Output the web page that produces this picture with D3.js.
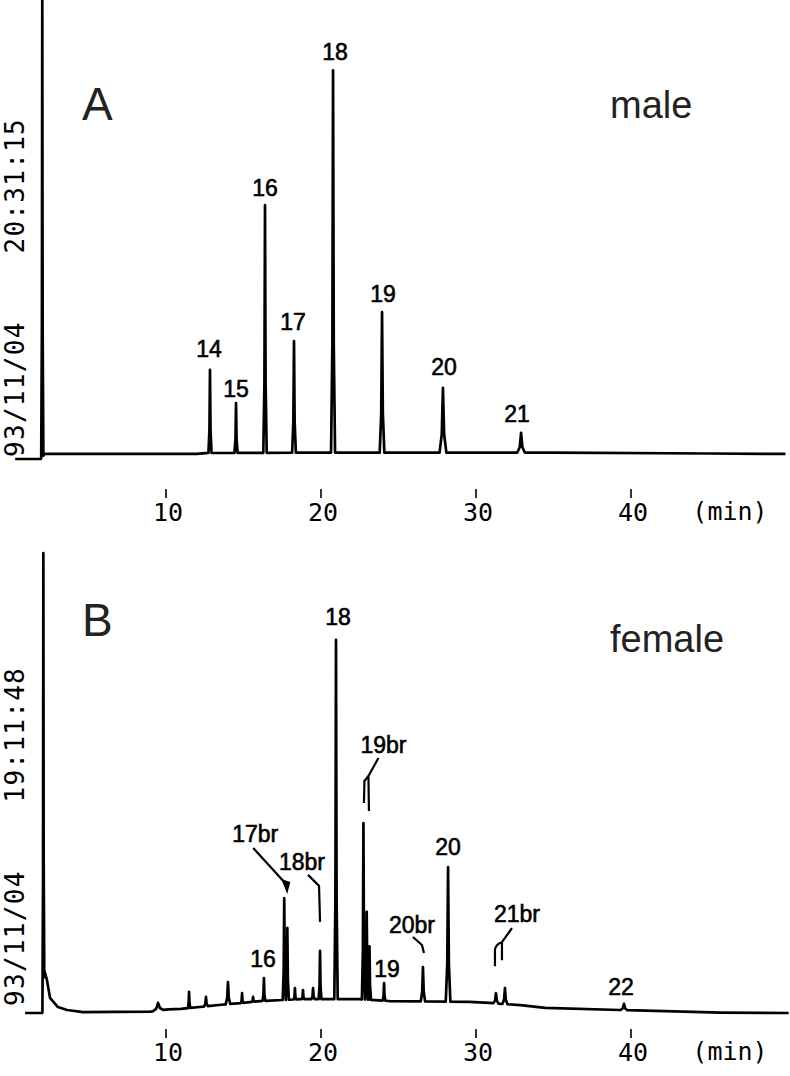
<!DOCTYPE html>
<html><head><meta charset="utf-8">
<script src="https://cdn.jsdelivr.net/npm/d3@7"></script>
<style>body{margin:0;background:#fff}svg{display:block}</style>
</head><body>
<svg id="c" width="790" height="1076"></svg>
<script>
// ---------------- data ----------------
const xTicks = [10, 20, 30, 40];
const xUnit = "(min)";

// Panel A (male)
const panelA = "A", sexA = "male", stampA = "93/11/04    20:31:15";
const baseA_t = [0.3, 1.95, 2.2, 12.0, 12.6, 20.0, 35.0, 45.0, 50.0];
const baseA_s = [0, 0, 1.1, 1.1, 1.3, 1.4, 1.4, 1.2, 1.1];
const peakA_t = [2.05, 12.87, 14.55, 16.42, 18.29, 20.81, 23.97, 27.90, 32.94];
const peakA_s = [100, 19.4, 12.2, 55.3, 25.7, 84.7, 32.0, 15.5, 5.7];
const peakA_w = [0.07, 0.10, 0.10, 0.11, 0.12, 0.13, 0.15, 0.22, 0.24];
const labelA = ["", "14", "15", "16", "17", "18", "19", "20", "21"];

// Panel B (female)
const panelB = "B", sexB = "female", stampB = "93/11/04    19:11:48";
const baseB_t = [0.94, 2.05, 2.2, 2.35, 2.55, 3.06, 3.65, 4.68, 9.0, 10.2, 11.0, 12.2, 13.6, 15.0, 16.1, 18.7, 22.5, 24.5, 29.6, 30.9, 32.9, 34.5, 39.3, 45.8, 50.2];
const baseB_s = [0, 0, 9.0, 7.2, 3.3, 1.3, 0.65, 0.2, 0.3, 0.8, 0.9, 1.3, 1.8, 2.2, 2.6, 3.0, 3.0, 2.6, 2.4, 2.2, 1.7, 1.1, 0.65, 0.1, 0];
const peakB_t = [2.12, 9.52, 11.52, 12.61, 14.03, 14.94, 15.65, 16.35, 17.66, 17.86, 18.35, 18.87, 19.52, 19.97, 21.00, 22.77, 22.98, 23.16, 24.10, 26.61, 28.23, 31.32, 31.90, 39.58];
const peakB_s = [100, 2.2, 4.6, 3.5, 6.7, 4.3, 3.5, 7.6, 25.0, 18.5, 5.4, 5.0, 5.4, 13.5, 81.1, 41.3, 22.0, 14.5, 6.5, 10.0, 31.7, 4.3, 5.4, 2.0];
const peakB_w = [0.06, 0.35, 0.08, 0.12, 0.15, 0.08, 0.08, 0.09, 0.10, 0.10, 0.08, 0.08, 0.10, 0.09, 0.11, 0.10, 0.11, 0.10, 0.09, 0.14, 0.15, 0.16, 0.16, 0.22];
const labelB = ["", "", "", "", "", "", "", "16", "17br", "", "", "", "", "18br", "18", "19br", "", "", "19", "20br", "20", "21br", "", "22"];

// ---------------- layout ----------------
const svg = d3.select("#c");
const x = d3.scaleLinear().domain([10, 40]).range([165.5, 630.5]);
const yA = d3.scaleLinear().domain([0, 100]).range([459, 0]);
const yB = d3.scaleLinear().domain([0, 100]).range([1013, 553]);

// label offsets (px) relative to peak apex
const offA = {"14":[-1,-13],"15":[0,-6],"16":[0,-9],"17":[-1,-11],"18":[2,-10],"19":[1,-10],"20":[1,-13],"21":[-4,-11]};
const offB = {"16":[-1,-11],"17br":[-29,-56],"18br":[-18,-81],"18":[2,-15],"19br":[20,-70],"19":[3,-6],"20br":[-11,-34],"20":[0,-12],"21br":[21,-71],"22":[-3,-9]};
// leader lines relative to apex
const leadB = {
  "17br": {d:"M-31,-50 L0,-16", fill:"M-3,-19 L6,-16 L3,-4 Z"},
  "18br": {d:"M-12,-76 L-1,-65 L0,-29"},
  "19br": {d:"M15,-65 L5,-47 L1,-42 L0.5,-20 M5,-47 L5.5,-12"},
  "20br": {d:"M-10,-30 L-1,-22 L1,-14"},
  "21br": {d:"M16,-65 L6,-51 L6,-33 M-1,-27 L-1,-44 Q0,-49 6,-51"}
};

function trace(bt, bs, pt, ps, pw) {
  const base = d3.scaleLinear().domain(bt).range(bs).clamp(true);
  const pts = [];
  bt.forEach((t, i) => {
    const inside = pt.some((p, j) => t > p - pw[j] && t < p + pw[j]);
    if (!inside) pts.push([t, bs[i]]);
  });
  pt.forEach((p, j) => {
    const w = pw[j];
    const bl = base(p - w), br = base(p + w), top = ps[j];
    pts.push([p - w, bl]);
    pts.push([p - 0.35 * w, bl + 0.28 * (top - bl)]);
    pts.push([p, top]);
    pts.push([p + 0.35 * w, br + 0.28 * (top - br)]);
    pts.push([p + w, br]);
  });
  pts.sort((a, b) => a[0] - b[0]);
  return pts;
}

function panel(o) {
  const g = svg.append("g");
  const line = d3.line().x(d => x(d[0])).y(d => o.y(d[1]));
  g.append("path")
    .attr("d", line(trace(o.bt, o.bs, o.pt, o.ps, o.pw)))
    .attr("fill", "none").attr("stroke", "#000")
    .attr("stroke-width", 2.7).attr("stroke-linejoin", "round");

  // peak labels + leaders
  o.labels.forEach((name, j) => {
    if (!name) return;
    const px = x(o.pt[j]), py = o.y(o.ps[j]);
    const off = o.off[name];
    g.append("text").attr("x", px + off[0]).attr("y", py + off[1])
      .attr("text-anchor", "middle")
      .attr("font-family", "Liberation Sans, Arial, sans-serif")
      .attr("font-size", 23).attr("fill", "#000")
      .attr("stroke", "#000").attr("stroke-width", 0.6)
      .text(name);
    const ld = o.lead && o.lead[name];
    if (ld) {
      const lg = g.append("g").attr("transform", `translate(${px},${py})`);
      lg.append("path").attr("d", ld.d).attr("fill", "none")
        .attr("stroke", "#000").attr("stroke-width", 2.2).attr("stroke-linejoin", "round");
      if (ld.fill) lg.append("path").attr("d", ld.fill).attr("fill", "#000");
    }
  });

  // axis
  const ax = g.append("g").attr("transform", `translate(0,${o.axisY})`)
    .call(d3.axisBottom(x).tickValues(xTicks).tickSize(9).tickPadding(5).tickFormat(d3.format("d")));
  ax.select(".domain").remove();
  ax.selectAll(".tick line").attr("stroke", "#000").attr("stroke-width", 1.6);
  ax.selectAll(".tick text").attr("font-family", "DejaVu Sans Mono, monospace")
    .attr("font-size", 25).attr("fill", "#000").attr("dx", 2);
  g.append("text").attr("x", 730).attr("y", o.axisY + 31)
    .attr("text-anchor", "middle").attr("font-family", "DejaVu Sans Mono, monospace")
    .attr("font-size", 25).attr("fill", "#000").text(xUnit);

  // stamp
  g.append("text").attr("transform", `translate(24,${o.stampY}) rotate(-90)`)
    .attr("font-family", "DejaVu Sans Mono, monospace").attr("font-size", 26)
    .attr("letter-spacing", 1.3)
    .attr("fill", "#000").attr("xml:space", "preserve").style("white-space", "pre")
    .text(o.stamp);

  // panel letter + sex
  g.append("text").attr("x", 82).attr("y", o.letterY)
    .attr("font-family", "Liberation Sans, Arial, sans-serif").attr("font-size", 46)
    .attr("fill", "#222").text(o.letter);
  g.append("text").attr("x", 610).attr("y", o.sexY)
    .attr("font-family", "Liberation Sans, Arial, sans-serif").attr("font-size", 38)
    .attr("fill", "#222").text(o.sex);
}

panel({y: yA, bt: baseA_t, bs: baseA_s, pt: peakA_t, ps: peakA_s, pw: peakA_w,
  labels: labelA, off: offA, lead: null, axisY: 489, stamp: stampA, stampY: 457,
  letter: panelA, letterY: 120, sex: sexA, sexY: 118});
panel({y: yB, bt: baseB_t, bs: baseB_s, pt: peakB_t, ps: peakB_s, pw: peakB_w,
  labels: labelB, off: offB, lead: leadB, axisY: 1029, stamp: stampB, stampY: 1006,
  letter: panelB, letterY: 636, sex: sexB, sexY: 652});
</script>
</body></html>
